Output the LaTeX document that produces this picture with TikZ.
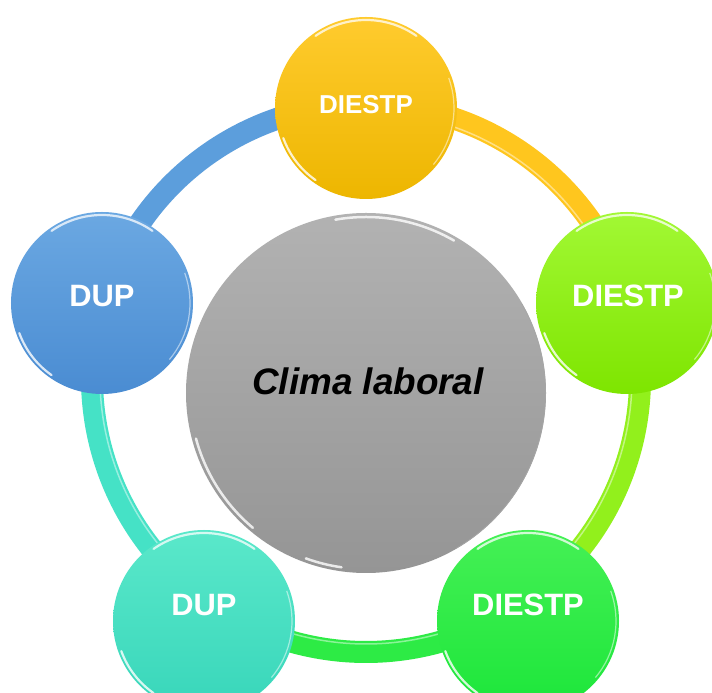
\documentclass[tikz,border=0pt]{standalone}
\usepackage{fontspec}
\setmainfont{Liberation Sans}
\definecolor{yT}{HTML}{FFCB2E}\definecolor{yB}{HTML}{EDB600}\definecolor{yR}{HTML}{FFC61E}
\definecolor{lT}{HTML}{A2F834}\definecolor{lB}{HTML}{7EE500}\definecolor{lR}{HTML}{92F01C}
\definecolor{gT}{HTML}{45F055}\definecolor{gB}{HTML}{1CE63A}\definecolor{gR}{HTML}{2DEB45}
\definecolor{tT}{HTML}{5AE8CA}\definecolor{tB}{HTML}{38D6BA}\definecolor{tR}{HTML}{45E2C6}
\definecolor{bT}{HTML}{6BA8E2}\definecolor{bB}{HTML}{4A8CD2}\definecolor{bR}{HTML}{5C9EDC}
\definecolor{cT}{HTML}{B2B2B2}\definecolor{cB}{HTML}{959595}
\newcommand\glossball[2]{%
  \draw[white, opacity=0.75, line width=2.2bp, line cap=round] (#1.center) ++(55:#2) arc[start angle=55,end angle=125,radius=#2];
  \draw[white, opacity=0.8, line width=2.2bp, line cap=round] (#1.center) ++(200:#2) arc[start angle=200,end angle=235,radius=#2];
  \draw[white, opacity=0.5, line width=1.2bp] (#1.center) ++(-40:#2) arc[start angle=-40,end angle=20,radius=#2];
}
\begin{document}
\begin{tikzpicture}[x=1bp,y=1bp,
  ring/.style={line width=22bp},
  ringhl/.style={white, opacity=0.45, line width=1.5bp},
  ball/.style={circle, inner sep=0pt, minimum size=182bp, draw=none},
  lbl/.style={text=white, font=\bfseries\fontsize{31}{31}\selectfont, inner sep=0pt},
  hub/.style={circle, inner sep=0pt, minimum size=360bp, top color=cT, bottom color=cB}]
\clip (0,0) rectangle (712,693);
\fill[white] (0,0) rectangle (712,693);
\coordinate (C) at (366,315);
% ring segments
\draw[ring, yR] (C) ++(90:274) arc[start angle=90,end angle=16,radius=274];
\draw[ring, lR] (C) ++(16:274) arc[start angle=16,end angle=-56,radius=274];
\draw[ring, gR] (C) ++(-56:274) arc[start angle=-56,end angle=-124,radius=274];
\draw[ring, tR] (C) ++(236:274) arc[start angle=236,end angle=164,radius=274];
\draw[ring, bR] (C) ++(164:274) arc[start angle=164,end angle=90,radius=274];
\draw[ringhl] (C) ++(90:266) arc[start angle=90,end angle=16,radius=266];
\draw[ringhl] (C) ++(16:266) arc[start angle=16,end angle=-56,radius=266];
\draw[ringhl] (C) ++(-56:266) arc[start angle=-56,end angle=-124,radius=266];
\draw[ringhl] (C) ++(236:266) arc[start angle=236,end angle=164,radius=266];
% balls
\node[ball, top color=yT, bottom color=yB] (n1) at (366,585) {};
\node[ball, top color=lT, bottom color=lB] (n2) at (627,390) {};
\node[ball, top color=gT, bottom color=gB] (n3) at (528,72) {};
\node[ball, top color=tT, bottom color=tB] (n4) at (204,72) {};
\node[ball, top color=bT, bottom color=bB] (n5) at (102,390) {};
\glossball{n1}{88}
\glossball{n2}{88}
\glossball{n3}{88}
\glossball{n4}{88}
\glossball{n5}{88}
% hub
\node[hub] (hub) at (366,300) {};
\draw[white, opacity=0.8, line width=2.5bp, line cap=round] (hub.center) ++(100:176) arc[start angle=100,end angle=60,radius=176];
\draw[white, opacity=0.8, line width=2.5bp, line cap=round] (hub.center) ++(195:176) arc[start angle=195,end angle=230,radius=176];
\draw[white, opacity=0.8, line width=2.5bp, line cap=round] (hub.center) ++(250:176) arc[start angle=250,end angle=262,radius=176];
\draw[black!35, line width=0.6bp] (hub.center) ++(30:179.5) arc[start angle=30,end angle=-60,radius=179.5];
% labels
\node[lbl, font=\bfseries\fontsize{26}{26}\selectfont] (t1) at (366,588) {DIESTP};
\node[lbl] (t2) at (628,397) {DIESTP};
\node[lbl] (t3) at (528,88) {DIESTP};
\node[lbl] (t4) at (204,88) {DUP};
\node[lbl] (t5) at (102,397) {DUP};
\node[font=\bfseries\itshape\fontsize{37}{37}\selectfont, inner sep=0pt] (ct) at (368,312) {Clima laboral};
\end{tikzpicture}
\end{document}
